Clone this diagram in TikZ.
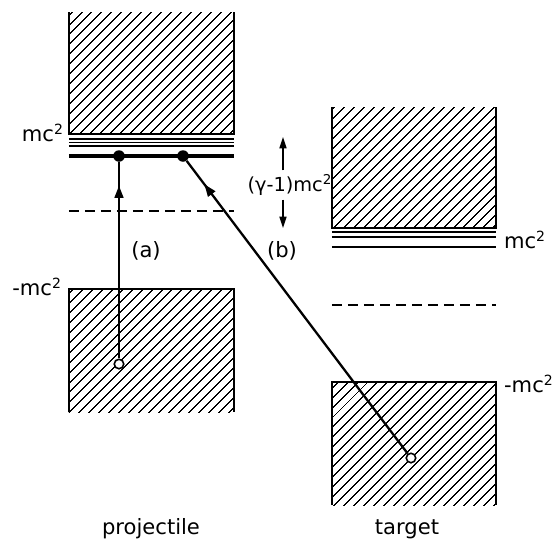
\documentclass[tikz,border=0pt]{standalone}
\usepackage{fontspec}
\setmainfont{DejaVu Sans}
\usetikzlibrary{arrows.meta, patterns.meta, decorations.markings}
\tikzset{
  sea/.style={pattern={Lines[angle=45,distance=4pt,line width=0.7pt]}},
  wall/.style={line width=1.3pt},
  level/.style={line width=0.9pt},
  fermi/.style={line width=2pt},
  gapline/.style={line width=0.9pt, dash pattern=on 5.7pt off 3.4pt},
  filled/.style={circle, fill=black, inner sep=0pt, minimum size=0.23cm},
  hole/.style={circle, draw, fill=white, line width=0.9pt, inner sep=0pt, minimum size=0.19cm},
  trans/.style={line width=1.3pt, postaction={decorate},
    decoration={markings, mark=at position #1 with {\arrow{Triangle[length=7pt,width=5pt]}}}},
  trans/.default=0.9,
  lbl/.style={font=\large, inner sep=1pt},
  gaparrow/.style={-{Triangle[length=6.5pt,width=4pt]}, line width=0.9pt}
}

\begin{document}
\begin{tikzpicture}[x=0.02cm, y=-0.02cm]
  \useasboundingbox (0,0) rectangle (556,542);

  % Projectile: upper continuum
  \fill[sea] (69,12) rectangle (234,134);
  \draw[wall] (69,12) -- (69,134) -- (234,134) -- (234,12);
  \draw[level] (69,139) -- (234,139);
  \draw[level] (69,142.5) -- (234,142.5);
  \draw[level] (69,146) -- (234,146);
  \draw[fermi] (69,156) -- (234,156);
  \draw[gapline] (69,211) -- (234,211);

  % Projectile: lower continuum
  \fill[sea] (69,289) rectangle (234,412);
  \draw[wall] (69,412) -- (69,289) -- (234,289) -- (234,412);

  % Target: upper continuum
  \fill[sea] (332,107) rectangle (496,228);
  \draw[wall] (332,107) -- (332,228) -- (496,228) -- (496,107);
  \draw[level] (332,232) -- (496,232);
  \draw[level] (332,237) -- (496,237);
  \draw[line width=1.3pt] (332,247) -- (496,247);
  \draw[gapline] (332,305) -- (496,305);

  % Target: lower continuum
  \fill[sea] (332,382) rectangle (496,505);
  \draw[wall] (332,505) -- (332,382) -- (496,382) -- (496,505);

  % Energy labels
  \node[lbl, anchor=east] (mcp) at (66,133) {mc\textsuperscript{2}};
  \node[lbl, anchor=east] (mmcp) at (64,287) {-mc\textsuperscript{2}};
  \node[lbl, anchor=west] (mct) at (502,240) {mc\textsuperscript{2}};
  \node[lbl, anchor=west] (mmct) at (502,384) {-mc\textsuperscript{2}};

  % Gap between the two mc^2 levels
  \node[lbl, font=\fontsize{11}{13}\selectfont] (gap) at (290,185) {(γ-1)mc\textsuperscript{2}};
  \coordinate (gtop) at (283,137);
  \coordinate (gbot) at (283,228);
  \draw[gaparrow] (gap.north -| gtop) ++(0,-2) -- (gtop);
  \draw[gaparrow] (gap.south -| gbot) ++(0,2) -- (gbot);

  % Hole and bound states
  \node[hole] (ha) at (119,364) {};
  \node[hole] (hb) at (411,458) {};
  \node[filled] (ka) at (119,156) {};
  \node[filled] (kb) at (183,156) {};

  % Transitions
  \draw[trans=0.88] (ha) -- (ka);
  \draw[trans=0.92] (hb) -- (kb);
  \node[lbl] (la) at (146,251) {(a)};
  \node[lbl] (lb) at (282,251) {(b)};

  % Column names
  \node[lbl] (proj) at (151,529) {projectile};
  \node[lbl] (targ) at (407,529) {target};
\end{tikzpicture}
\end{document}
